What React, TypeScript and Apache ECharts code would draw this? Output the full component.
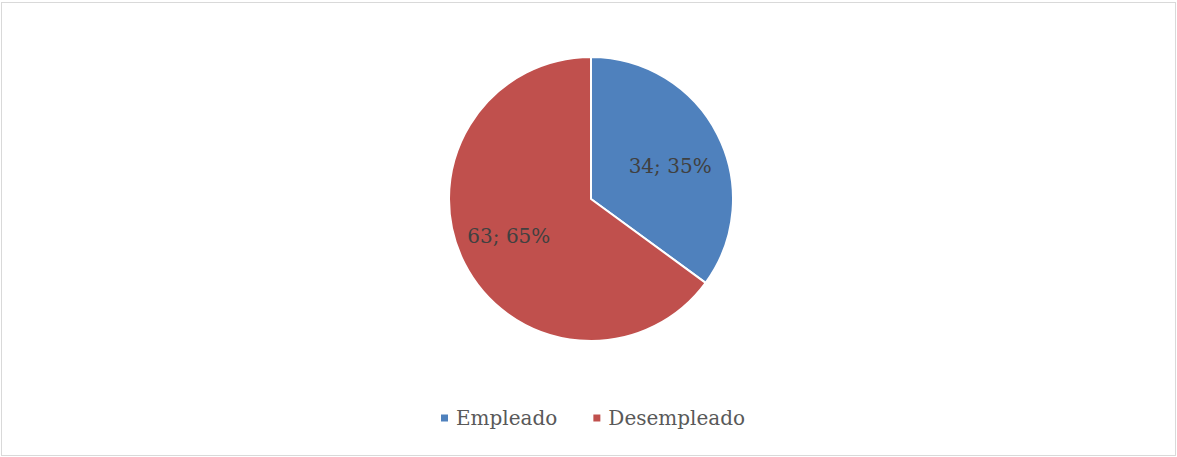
import React, { useEffect, useRef } from "react";
import * as echarts from "echarts";

const categories = ["Empleado", "Desempleado"];
const values = [34, 63];
const colors = ["#4F81BD", "#C0504D"];

const FONT = "'DejaVu Serif', 'Liberation Serif', serif";
const CX = 591;
const CY = 199;

export default function App() {
  const ref = useRef<HTMLDivElement>(null);
  useEffect(() => {
    if (!ref.current) return;
    const chart = echarts.init(ref.current, undefined, { renderer: "svg" });
    chart.setOption({
      animation: false,
      backgroundColor: "transparent",
      color: colors,
      legend: {
        show: true,
        bottom: 24,
        left: 434,
        icon: "rect",
        itemWidth: 9,
        itemHeight: 9,
        itemGap: 34,
        textStyle: { fontFamily: FONT, fontSize: 20, color: "#595959", padding: [0, 0, 0, 2] },
        data: categories,
      },
      series: [
        {
          type: "pie",
          center: [CX, CY],
          radius: 142,
          startAngle: 90,
          clockwise: true,
          avoidLabelOverlap: false,
          itemStyle: { borderColor: "#ffffff", borderWidth: 2 },
          label: {
            show: true,
            position: "inside",
            formatter: (p: any) => `${p.value}; ${Math.round(p.percent)}%`,
            fontFamily: FONT,
            fontSize: 20,
            color: "#404040",
          },
          labelLine: { show: false },
          labelLayout: (params: any) => {
            const r = params.labelRect;
            const cx = r.x + r.width / 2;
            const cy = r.y + r.height / 2;
            const right = cx > CX;
            return { dx: (cx - CX) * 0.26 + (right ? -4 : 1), dy: right ? 0 : 4 };
          },
          emphasis: { disabled: true },
          data: categories.map((c, i) => ({ name: c, value: values[i] })),
        },
      ],
    });
    return () => chart.dispose();
  }, []);
  return (
    <div style={{ position: "absolute", left: 0, top: 0, width: 1177, height: 457, background: "#fff" }}>
      <div ref={ref} style={{ position: "absolute", left: 0, top: 0, width: 1177, height: 457 }} />
      <div
        style={{
          position: "absolute",
          left: 1,
          top: 2,
          width: 1175,
          height: 454,
          border: "1px solid #d9d9d9",
          boxSizing: "border-box",
          pointerEvents: "none",
        }}
      />
    </div>
  );
}
